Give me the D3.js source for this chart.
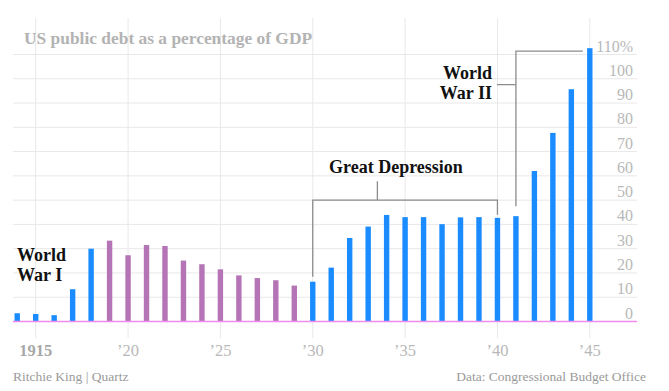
<!DOCTYPE html>
<html>
<head>
<meta charset="utf-8">
<script src="https://cdn.jsdelivr.net/npm/d3@7"></script>
<style>
  html, body { margin: 0; padding: 0; background: #ffffff; }
  svg { display: block; }
  text { font-family: "Liberation Serif", "DejaVu Serif", serif; }
</style>
</head>
<body>
<svg id="chart" width="669" height="391"></svg>
<script>
// ---- data ----
const years = [1914, 1915, 1916, 1917, 1918, 1919, 1920, 1921, 1922, 1923, 1924,
  1925, 1926, 1927, 1928, 1929, 1930, 1931, 1932, 1933, 1934, 1935, 1936, 1937,
  1938, 1939, 1940, 1941, 1942, 1943, 1944, 1945];
const debtPct = [3.4, 3.1, 2.6, 13.3, 30.0, 33.3, 27.3, 31.5, 31.1, 25.1, 23.6,
  21.5, 19.0, 17.9, 17.0, 14.8, 16.4, 22.2, 34.4, 39.1, 43.9, 43.0, 43.0, 40.1,
  42.9, 43.0, 42.7, 43.4, 62.0, 77.7, 95.7, 112.6];
const interwarYears = [1919, 1920, 1921, 1922, 1923, 1924, 1925, 1926, 1927, 1928, 1929];
const xTickYears = [1915, 1920, 1925, 1930, 1935, 1940, 1945];
const xTickLabels = ["1915", "\u201920", "\u201925", "\u201930", "\u201935", "\u201940", "\u201945"];
const yTicks = [0, 10, 20, 30, 40, 50, 60, 70, 80, 90, 100, 110];
const yTickLabels = ["0", "10", "20", "30", "40", "50", "60", "70", "80", "90", "100", "110%"];
const title = "US public debt as a percentage of GDP";
const credit = "Ritchie King | Quartz";
const source = "Data: Congressional Budget Office";

// ---- layout ----
const plotLeft = 13, plotRight = 637, gridTop = 18, tickBottom = 338;
const x = d3.scaleLinear().domain([1915, 1945]).range([35.7, 589.8]);
const y = d3.scaleLinear().domain([0, 110]).range([321.5, 54.5]);
const barW = 5.4;
const blue = "#1a8cff", purple = "#b574b5";

const svg = d3.select("#chart");

// horizontal gridlines
svg.append("g").selectAll("line").data(yTicks).join("line")
  .attr("x1", plotLeft).attr("x2", plotRight)
  .attr("y1", d => y(d)).attr("y2", d => y(d))
  .attr("stroke", "#e8e8e8").attr("stroke-width", 1);

// vertical gridlines
svg.append("g").selectAll("line").data(xTickYears).join("line")
  .attr("x1", d => x(d)).attr("x2", d => x(d))
  .attr("y1", gridTop).attr("y2", tickBottom)
  .attr("stroke", "#e8e8e8").attr("stroke-width", 1);

// title
svg.append("text").attr("x", 24).attr("y", 44)
  .attr("font-size", 17.4).attr("font-weight", "bold").attr("fill", "#b3b3b3")
  .text(title);

// y labels (right)
svg.append("g").selectAll("text").data(yTicks).join("text")
  .attr("x", 633).attr("y", d => y(d) - 3)
  .attr("text-anchor", "end").attr("font-size", 16).attr("fill", "#b8b8b8")
  .text((d, i) => yTickLabels[i]);

// x labels
svg.append("g").selectAll("text").data(xTickYears).join("text")
  .attr("x", d => x(d)).attr("y", 356)
  .attr("text-anchor", "middle").attr("font-size", 16.5)
  .attr("font-weight", (d, i) => i === 0 ? "bold" : "normal")
  .attr("fill", (d, i) => i === 0 ? "#a8a8a8" : "#b8b8b8")
  .text((d, i) => xTickLabels[i]);

// bars
svg.append("g").selectAll("rect").data(years).join("rect")
  .attr("x", d => x(d) - barW / 2)
  .attr("width", barW)
  .attr("y", (d, i) => y(debtPct[i]))
  .attr("height", (d, i) => y(0) - y(debtPct[i]))
  .attr("fill", d => interwarYears.includes(d) ? purple : blue);

// baseline
svg.append("line").attr("x1", plotLeft).attr("x2", plotRight)
  .attr("y1", y(0)).attr("y2", y(0))
  .attr("stroke", "#f08cf0").attr("stroke-width", 1.5);

// annotations
const annColor = "#8c8c8c";
const val = yr => debtPct[years.indexOf(yr)];
const ann = svg.append("g").attr("fill", "none").attr("stroke", annColor).attr("stroke-width", 1.3);

// Great Depression bracket
const gdY = y(50);
ann.append("path").attr("d",
  `M${x(1930)},${y(val(1930)) - 5}V${gdY}H${x(1940)}V${y(val(1940)) - 3}` +
  `M${x(1933.5)},${gdY}V${gdY - 19}`);

// WWII bracket
const wwTop = y(111.4);
ann.append("path").attr("d",
  `M${x(1941)},${y(val(1941)) - 10}V${wwTop}H${x(1945) - 7}` +
  `M${x(1941)},${y(97.6)}H${x(1941) - 19}`);

const label = (lines, xx, yy, anchor) => {
  const t = svg.append("text").attr("x", xx).attr("y", yy)
    .attr("font-size", 18).attr("font-weight", "bold").attr("fill", "#111")
    .attr("text-anchor", anchor);
  lines.forEach((l, i) => t.append("tspan").attr("x", xx).attr("dy", i ? 19.5 : 0).text(l));
};
label(["World", "War I"], 17, 261, "start");
label(["Great Depression"], 329, 173, "start");
label(["World", "War II"], 492, 79, "end");

// footer
svg.append("text").attr("x", 13).attr("y", 381).attr("font-size", 13.5).attr("fill", "#9a9a9a").text(credit);
svg.append("text").attr("x", 646).attr("y", 381).attr("font-size", 13.5).attr("fill", "#9a9a9a")
  .attr("text-anchor", "end").text(source);
</script>
</body>
</html>
